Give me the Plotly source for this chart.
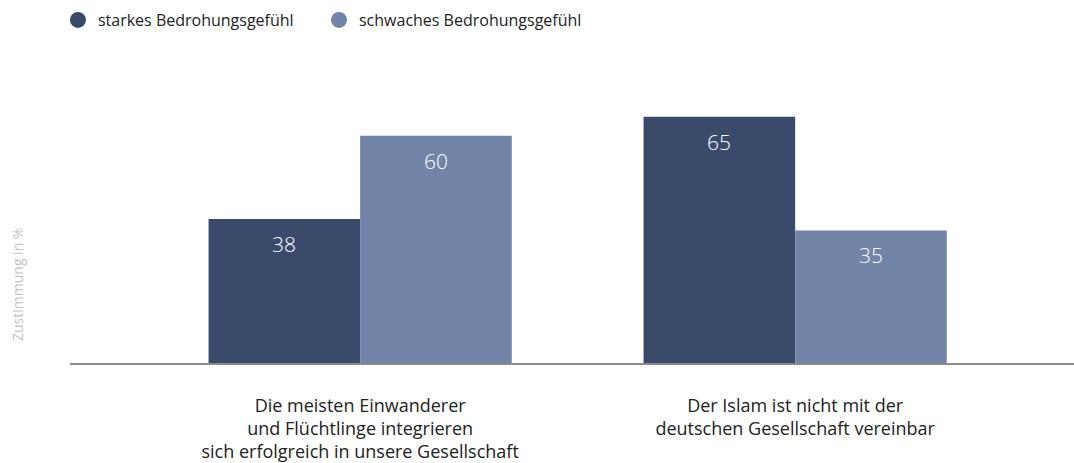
import plotly.graph_objects as go

# Zustimmung in % nach Bedrohungsgefühl
categories = [
    "Die meisten Einwanderer<br>und Flüchtlinge integrieren<br>sich erfolgreich in unsere Gesellschaft",
    "Der Islam ist nicht mit der<br>deutschen Gesellschaft vereinbar",
]
series_names = ["starkes Bedrohungsgefühl", "schwaches Bedrohungsgefühl"]
stark_values = [38, 65]
schwach_values = [60, 35]

colors = ["#3a4a6b", "#7284a8"]
FONT = "Open Sans"
BARGAP = 0.303
legend_ids = ["legend", "legend2"]

fig = go.Figure()
for name, vals, col, lg in zip(series_names, [stark_values, schwach_values], colors, legend_ids):
    fig.add_trace(go.Bar(
        x=[0, 1], y=vals, name=name, marker=dict(color=col, line=dict(width=0)),
        showlegend=False, hoverinfo="skip",
    ))
    # legend entries drawn as round markers
    fig.add_trace(go.Scatter(
        x=[None], y=[None], mode="markers", name=name, legend=lg,
        marker=dict(color=col, size=17, symbol="circle"),
    ))

# value labels inside the bar tops, centred on each bar of the group
bar_w = (1 - BARGAP) / 2
offsets = [-bar_w / 2, bar_w / 2]
for off, vals in zip(offsets, [stark_values, schwach_values]):
    for i, v in enumerate(vals):
        fig.add_annotation(
            x=i + off, y=v, text=str(v), showarrow=False, yshift=-25,
            font=dict(family=FONT, size=21, color="white", weight=300),
        )

fig.add_annotation(
    xref="paper", yref="paper", x=-0.053, y=0.26, xanchor="center", yanchor="middle",
    text="Zustimmung in %", textangle=-90, showarrow=False,
    font=dict(family=FONT, size=14, color="#c4c4c4"),
)

legend_style = dict(
    orientation="h", xanchor="left", y=0.9935, yanchor="top", yref="container",
    font=dict(family=FONT, size=16, color="#222222"), itemclick=False,
)

fig.update_layout(
    width=1074, height=463,
    margin=dict(l=70, r=0, t=60, b=100),
    paper_bgcolor="white", plot_bgcolor="white",
    barmode="group", bargap=BARGAP, bargroupgap=0,
    font=dict(family=FONT, color="#222222"),
    legend=dict(x=-0.012, **legend_style),
    legend2=dict(x=0.248, **legend_style),
    xaxis=dict(
        range=[-0.667, 1.641], tickmode="array", tickvals=[0, 1], ticktext=categories,
        showgrid=False, zeroline=False, showline=True, linecolor="#8a8a8a", linewidth=2,
        ticks="outside", ticklen=25, tickcolor="rgba(0,0,0,0)", automargin=False,
        tickfont=dict(family=FONT, size=18, color="#222222"),
    ),
    yaxis=dict(range=[0, 80], visible=False, showgrid=False, zeroline=False),
)

fig.write_html("out.html")
